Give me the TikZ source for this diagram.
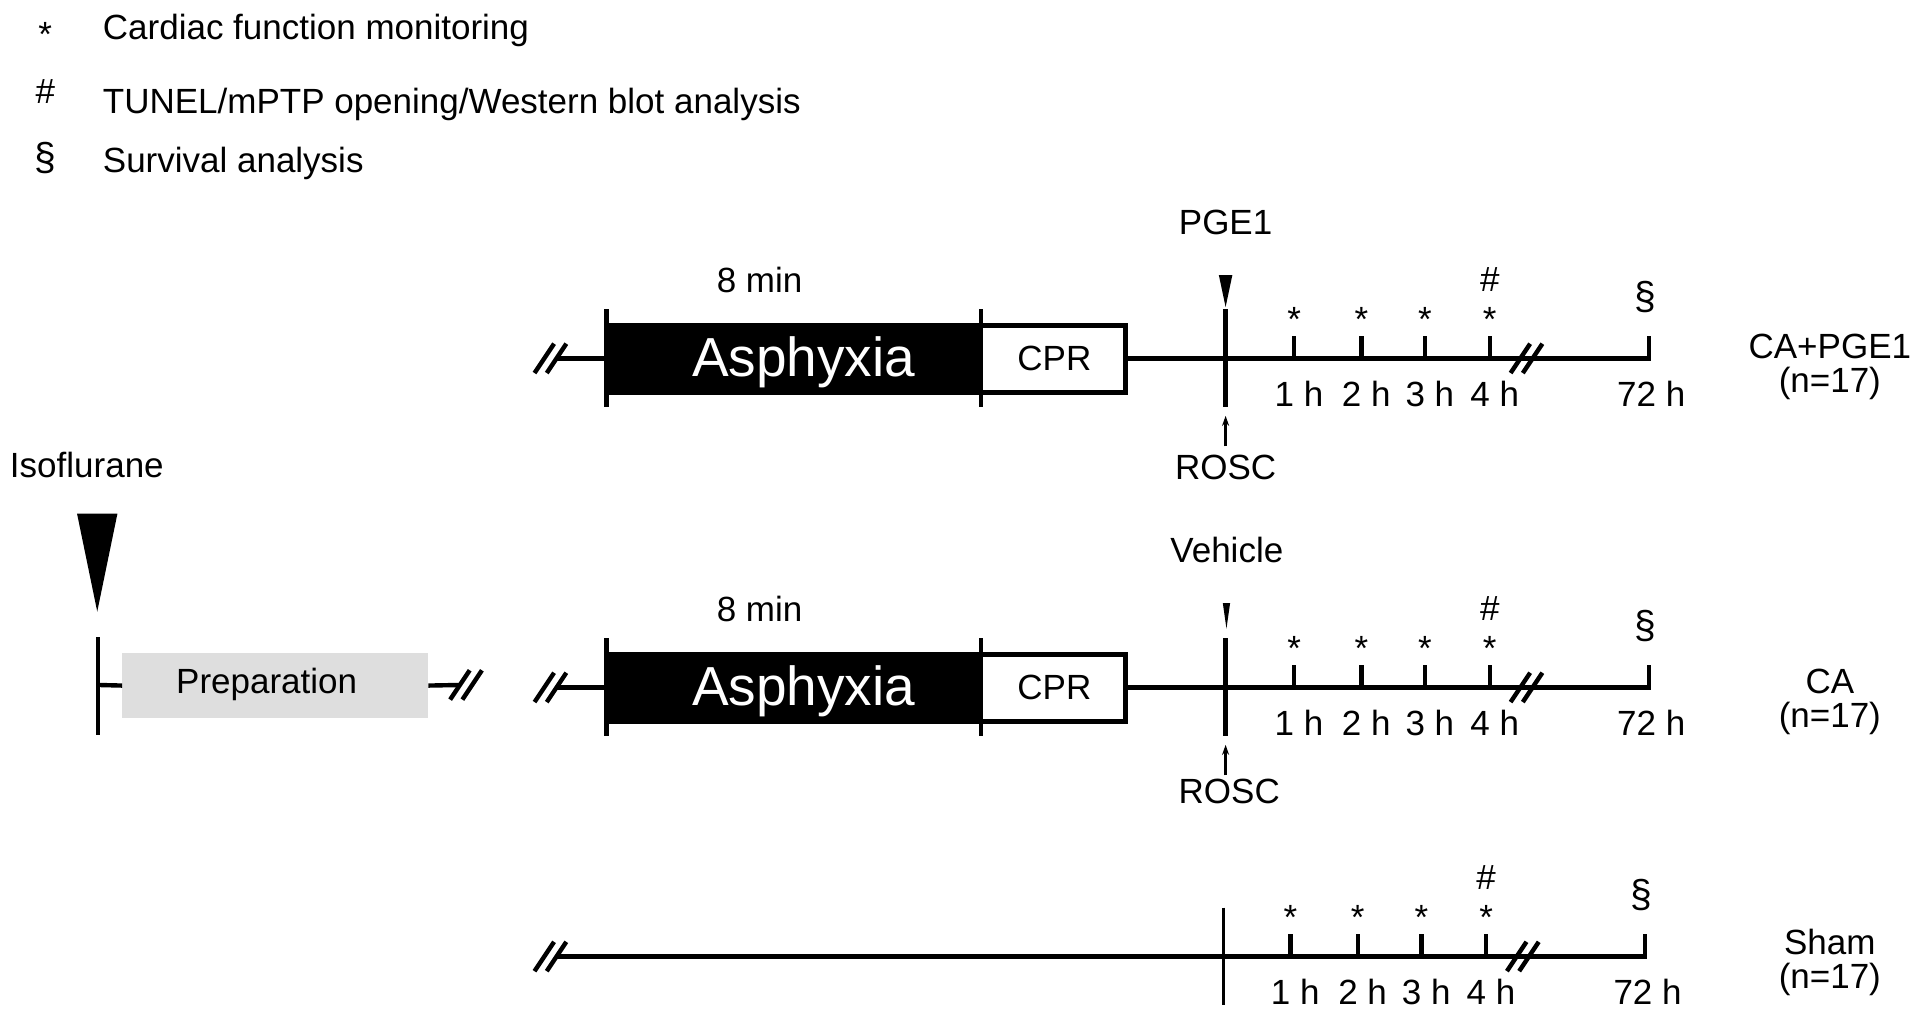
\documentclass[tikz,border=0pt]{standalone}
\usepackage{fontspec}
\setmainfont{Liberation Sans}
\usetikzlibrary{arrows.meta}
\begin{document}
\begin{tikzpicture}[x=1.2232pt,y=-1.2232pt,
  txt/.style={inner sep=0pt,anchor=base,font=\fontsize{35}{40}\selectfont},
  sectxt/.style={inner sep=0pt,anchor=base,font=\fontsize{39}{44}\selectfont},
  bigtxt/.style={inner sep=0pt,anchor=base,font=\fontsize{55}{60}\selectfont,text=white},
  ln/.style={line width=4.4pt},
  thinln/.style={line width=2.8pt},
  brk/.pic={\draw[ln] (-13,12)--(3,-12); \draw[ln] (-3,12)--(13,-12);},
  tri/.style={fill=black,draw=none}]
\useasboundingbox (0,0) rectangle (1564,833);

% ---------- legend ----------
\node[txt] (lgs) at (37,38) {*};
\node[txt,anchor=base west] (lg1) at (84,32) {Cardiac function monitoring};
\node[txt] (lgh) at (37,85) {\#};
\node[txt,anchor=base west] (lg2) at (84,93) {TUNEL/mPTP opening/Western blot analysis};
\node[sectxt] (lgp) at (37,139) {\S};
\node[txt,anchor=base west] (lg3) at (84,141) {Survival analysis};

% ---------- preparation ----------
\node[txt] (iso) at (71,390) {Isoflurane};
\fill[tri] (63,420) -- (96,420) -- (79.5,500) -- cycle;
\coordinate (pt) at (80,560);
\draw[ln] (80,521) -- (80,601);
\node[fill=black!13,draw=none,minimum width=250*1.2232pt,minimum height=53*1.2232pt,inner sep=0pt] (prep) at (225,560.5) {};
\node[txt] (preptxt) at (218,567) {Preparation};
\draw[ln] (pt) -- (prep.west);
\coordinate (pb) at (381,560);
\draw[ln] (prep.east) -- (376,560);
\pic at (pb) {brk};

% ---------- row macro ----------
\newcommand{\hourrow}[3]{%
 \begin{scope}[shift={(#2,#1)}]
   \foreach \x/\l in {1058/1,1113/2,1165/3,1218/4}{
     \draw[ln] (\x,0) -- (\x,-18);
     \node[txt] (hl\l-#3) at (\x+4,39) {\l\ h};
     \node[txt] (st\l-#3) at (\x,-22) {*};
   }
   \node[txt] (hs-#3) at (1218,-55) {\#};
   \node[sectxt] (sec-#3) at (1345,-40) {\S};
   \node[txt] (h72-#3) at (1350,39) {72 h};
   \pic at (1248,0) {brk};
 \end{scope}}

\newcommand{\carow}[2]{%
 \begin{scope}[shift={(0,#1)}]
   \coordinate (ls-#2) at (455,0);
   \coordinate (le-#2) at (1348,0);
   \pic at (450,0) {brk};
   \draw[ln] (ls-#2) -- (le-#2) -- (1348,-18);
   \node[fill=black,draw=black,line width=4.4pt,minimum width=306*1.2232pt,minimum height=55*1.2232pt,inner sep=0pt] (asp-#2) at (649,0.5) {};
   \node[bigtxt] (asptxt-#2) at (657,15) {Asphyxia};
   \node[fill=white,draw=black,line width=4.4pt,minimum width=118*1.2232pt,minimum height=55*1.2232pt,inner sep=0pt] (cpr-#2) at (861,0.5) {};
   \node[txt] (cprtxt-#2) at (862,10) {CPR};
   \draw[ln] (496,-40) -- (496,40);
   \draw[ln] (802,-40) -- (802,40);
   \node[txt] (min-#2) at (621,-54) {8 min};
   \draw[ln] (1002,-40) -- (1002,40);
   \draw[line width=2.6pt,-{Stealth[length=10pt,width=7pt]}] (1002,72) -- (1002,47);
 \end{scope}}

% ---------- row 1: CA+PGE1 ----------
\carow{293}{a}
\hourrow{293}{0}{a}
\node[txt] (pge) at (1002,192) {PGE1};
\fill[tri] (996.5,225) -- (1007.5,225) -- (1002,251) -- cycle;
\node[txt] (rosc1) at (1002,392) {ROSC};
\node[txt] (g1a) at (1496,293) {CA+PGE1};
\node[txt] (g1b) at (1496,321) {(n=17)};

% ---------- row 2: CA ----------
\carow{562}{b}
\hourrow{562}{0}{b}
\node[txt] (veh) at (1003,460) {Vehicle};
\fill[tri] (999.7,493) -- (1005.7,493) -- (1002.7,514) -- cycle;
\node[txt] (rosc2) at (1005,657) {ROSC};
\node[txt] (g2a) at (1496,567) {CA};
\node[txt] (g2b) at (1496,595) {(n=17)};

% ---------- row 3: Sham ----------
\begin{scope}[shift={(0,782)}]
  \coordinate (ls-c) at (455,0);
  \coordinate (le-c) at (1345,0);
  \pic at (450,0) {brk};
  \draw[ln] (ls-c) -- (le-c) -- (1345,-18);
  \draw[thinln] (1000,-40) -- (1000,40);
\end{scope}
\hourrow{782}{-3}{c}
\node[txt] (g3a) at (1496,780) {Sham};
\node[txt] (g3b) at (1496,808) {(n=17)};
\end{tikzpicture}
\end{document}
